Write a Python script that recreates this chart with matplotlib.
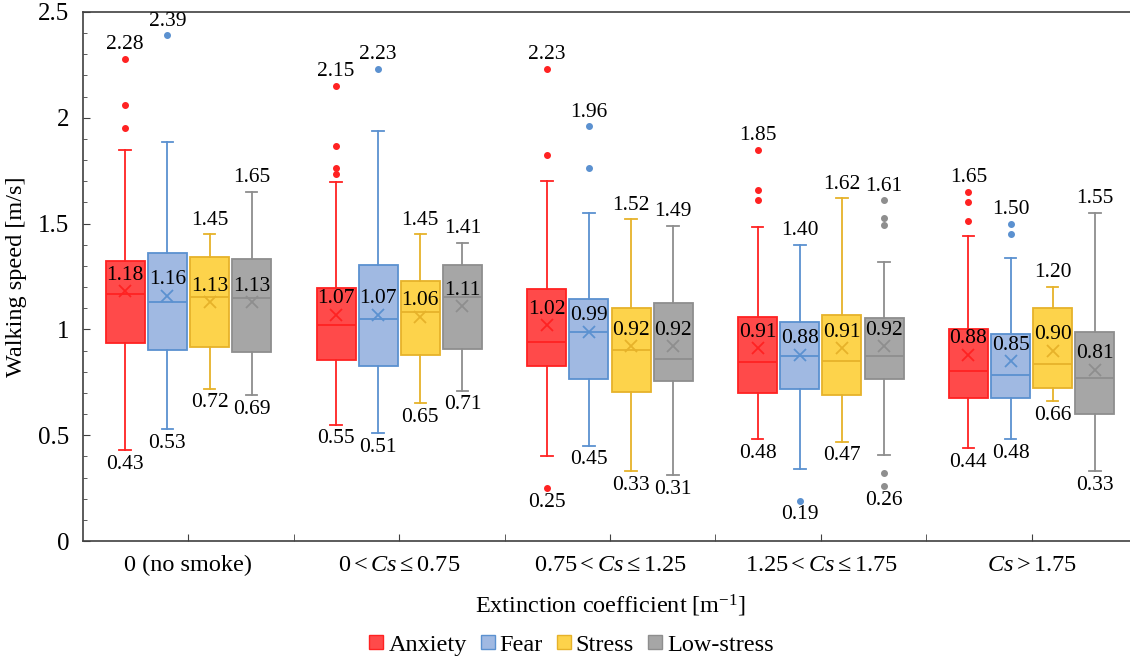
import numpy as np
import matplotlib
matplotlib.use("Agg")
import matplotlib.pyplot as plt
from matplotlib.lines import Line2D

plt.rcParams['font.family'] = ['Liberation Serif', 'DejaVu Serif']
plt.rcParams['mathtext.fontset'] = 'custom'
plt.rcParams['mathtext.rm'] = 'Liberation Serif'
plt.rcParams['mathtext.it'] = 'Liberation Serif:italic'

# Grupos (coeficiente de extinción)
grupos = [r'0 (no smoke)', r'$0 < Cs \leq 0.75$', r'$0.75 < Cs \leq 1.25$',
          r'$1.25 < Cs \leq 1.75$', r'$Cs > 1.75$']
emociones = ['Anxiety', 'Fear', 'Stress', 'Low-stress']

# Estadísticos: [min bigote, Q1, mediana, Q3, max bigote, media]
anxiety = [[0.43, 0.937, 1.168, 1.325, 1.85, 1.18],
           [0.55, 0.857, 1.021, 1.196, 1.695, 1.07],
           [0.40, 0.825, 0.940, 1.191, 1.70, 1.02],
           [0.48, 0.700, 0.845, 1.059, 1.484, 0.91],
           [0.44, 0.674, 0.803, 1.001, 1.442, 0.88]]
anxiety_out = [[2.28, 2.06, 1.95], [2.15, 1.866, 1.765, 1.732],
               [2.23, 1.824, 0.25], [1.85, 1.66, 1.61], [1.65, 1.60, 1.51]]

fear = [[0.53, 0.904, 1.130, 1.359, 1.886, 1.16],
        [0.51, 0.828, 1.049, 1.305, 1.936, 1.07],
        [0.45, 0.766, 0.987, 1.143, 1.548, 0.99],
        [0.338, 0.716, 0.875, 1.037, 1.40, 0.88],
        [0.48, 0.674, 0.783, 0.979, 1.339, 0.85]]
fear_out = [[2.39], [2.23], [1.96, 1.765], [0.19], [1.50, 1.452]]

stress = [[0.72, 0.915, 1.155, 1.344, 1.45, 1.13],
          [0.65, 0.878, 1.084, 1.230, 1.45, 1.06],
          [0.33, 0.703, 0.904, 1.099, 1.52, 0.92],
          [0.47, 0.691, 0.853, 1.066, 1.62, 0.91],
          [0.66, 0.725, 0.837, 1.101, 1.20, 0.90]]
stress_out = [[], [], [], [], []]

lowstress = [[0.69, 0.895, 1.150, 1.334, 1.65, 1.13],
             [0.71, 0.907, 1.155, 1.302, 1.41, 1.11],
             [0.31, 0.758, 0.858, 1.126, 1.49, 0.92],
             [0.407, 0.765, 0.875, 1.054, 1.317, 0.92],
             [0.33, 0.599, 0.770, 0.987, 1.55, 0.81]]
lowstress_out = [[], [], [], [1.61, 1.528, 1.494, 0.323, 0.26], []]

datos = [(anxiety, anxiety_out), (fear, fear_out), (stress, stress_out), (lowstress, lowstress_out)]
rellenos = ['#FF4A4A', '#A0B9E2', '#FDD34B', '#A6A6A6']
bordes = ['#FF2222', '#5B91D0', '#E6B22A', '#8E8E8E']

fig = plt.figure(figsize=(11.3, 6.58), dpi=100)
ax = fig.add_axes([0.0735, 0.1778, 0.9327, 0.804])

desplaz = [-0.3, -0.1, 0.1, 0.3]
ancho = 0.185

for k, (stats, outs) in enumerate(datos):
    cajas = []
    for g in range(len(grupos)):
        lo, q1, med, q3, hi, mean = stats[g]
        cajas.append(dict(whislo=lo, q1=q1, med=med, q3=q3, whishi=hi,
                          mean=mean, fliers=outs[g]))
    pos = np.arange(len(grupos)) + desplaz[k]
    c = bordes[k]
    ax.bxp(cajas, positions=pos, widths=ancho, patch_artist=True,
           showmeans=True, capwidths=0.055,
           boxprops=dict(facecolor=rellenos[k], edgecolor=c, linewidth=1.3),
           medianprops=dict(color=c, linewidth=1.3),
           whiskerprops=dict(color=c, linewidth=1.3),
           capprops=dict(color=c, linewidth=1.3),
           meanprops=dict(marker='x', markeredgecolor=c, markersize=9, markeredgewidth=1.3),
           flierprops=dict(marker='o', markerfacecolor=c, markeredgecolor=c, markersize=4))
    # Etiquetas: media, máximo y mínimo
    for g in range(len(grupos)):
        lo, q1, med, q3, hi, mean = stats[g]
        top = max([hi] + outs[g])
        bot = min([lo] + outs[g])
        x = pos[g]
        ax.text(x, mean + 0.03, f'{mean:.2f}', ha='center', va='bottom', fontsize=15.5)
        ax.text(x, top + 0.022, f'{top:.2f}', ha='center', va='bottom', fontsize=15.5)
        ax.text(x, bot - 0.022, f'{bot:.2f}', ha='center', va='top', fontsize=15.5)

ax.set_xlim(-0.5, len(grupos) - 0.5)
ax.set_ylim(0, 2.5)
ax.set_xticks(np.arange(len(grupos)))
ax.set_xticklabels(grupos, fontsize=17.5)
ax.set_xticks(np.arange(len(grupos) - 1) + 0.5, minor=True)
ax.set_yticks([0, 0.5, 1, 1.5, 2, 2.5])
ax.set_yticklabels(['0', '0.5', '1', '1.5', '2', '2.5'], fontsize=18)
ax.set_yticks(np.arange(0, 2.5, 0.1), minor=True)
ax.tick_params(axis='both', which='both', direction='in', color='#404040')
ax.tick_params(axis='x', which='both', length=5, pad=10)
ax.tick_params(axis='y', which='major', length=5, pad=10)
ax.tick_params(axis='y', which='minor', length=3)
for s in ax.spines.values():
    s.set_color('#404040')
    s.set_linewidth(1.2)

ax.set_xlabel(r'Extinction coefficient [m$^{-1}$]', fontsize=17.5, labelpad=12)
ax.set_ylabel('Walking speed [m/s]', fontsize=17.5, labelpad=8)

manejadores = [Line2D([], [], linestyle='none', marker='s', markersize=10,
                      markerfacecolor=rellenos[k], markeredgecolor=bordes[k])
               for k in range(len(emociones))]
fig.legend(manejadores, emociones, loc='lower center', ncol=4, frameon=False,
           fontsize=17.5, bbox_to_anchor=(0.505, -0.03), handletextpad=0.15,
           columnspacing=0.5, handlelength=0.7)

fig.savefig('out.png', dpi=100)
